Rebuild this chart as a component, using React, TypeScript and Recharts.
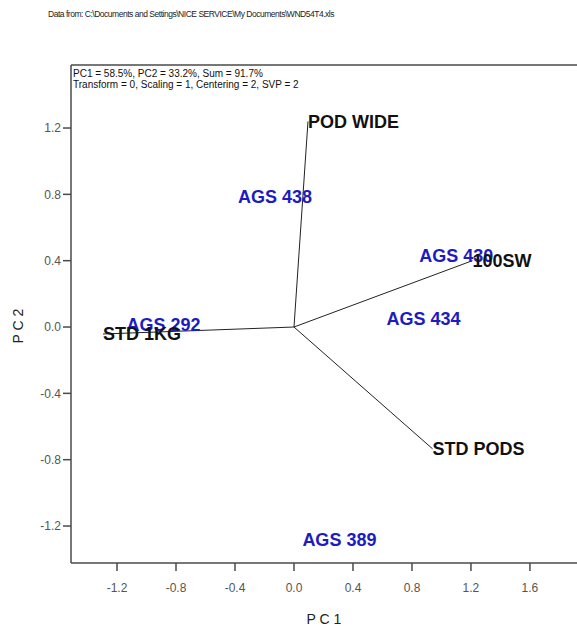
import * as React from "react";
import {
  ScatterChart,
  Scatter,
  XAxis,
  YAxis,
  ReferenceLine,
} from "recharts";

// trait vectors (end points, drawn from the origin)
const traitNames = ["POD WIDE", "100SW", "STD PODS", "STD 1KG"];
const traitPc1 = [0.095, 1.21, 0.94, -1.295];
const traitPc2 = [1.24, 0.4, -0.735, -0.042];

// genotype markers (label centres)
const genoNames = ["AGS 438", "AGS 430", "AGS 434", "AGS 292", "AGS 389"];
const genoPc1 = [-0.129, 1.1, 0.878, -0.885, 0.308];
const genoPc2 = [0.784, 0.43, 0.054, 0.018, -1.279];

const xTicks = [-1.2, -0.8, -0.4, 0.0, 0.4, 0.8, 1.2, 1.6];
const yTicks = [-1.2, -0.8, -0.4, 0.0, 0.4, 0.8, 1.2];
const xDomain = [-1.512, 1.919];
const yDomain = [-1.423, 1.58];

const traits = traitNames.map((name, i) => ({ name, x: traitPc1[i], y: traitPc2[i] }));
const genotypes = genoNames.map((name, i) => ({ name, x: genoPc1[i], y: genoPc2[i] }));

const FONT = "'Liberation Sans', Arial, sans-serif";
const AXIS = "#4a4a4a";

const TraitLabel = (props: any) => (
  <text
    x={props.cx}
    y={props.cy}
    dy="0.36em"
    fontFamily={FONT}
    fontSize={18}
    fontWeight="bold"
    fill="#111"
  >
    {props.payload.name}
  </text>
);

const GenoLabel = (props: any) => (
  <text
    x={props.cx}
    y={props.cy}
    dy="0.36em"
    textAnchor="middle"
    fontFamily={FONT}
    fontSize={18}
    fontWeight="bold"
    fill="#1c1cc0"
  >
    {props.payload.name}
  </text>
);

const XTitle = (props: any) => {
  const vb = props.viewBox;
  return (
    <text x={vb.x + vb.width / 2} y={619} dy="0.36em" textAnchor="middle" fontFamily={FONT} fontSize={14} fill="#222">
      P C 1
    </text>
  );
};

const YTitle = () => (
  <text
    x={18}
    y={326}
    dy="0.36em"
    textAnchor="middle"
    transform="rotate(-90 18 326)"
    fontFamily={FONT}
    fontSize={14}
    fill="#222"
  >
    P C 2
  </text>
);

const fmt = (v: number) => v.toFixed(1);

export default function App() {
  return (
    <div style={{ position: "absolute", left: 0, top: 0, width: 577, height: 627, background: "#fff" }}>
      <div
        style={{
          position: "absolute",
          left: 48,
          top: 9,
          fontFamily: FONT,
          fontSize: 8.5,
          color: "#222",
          whiteSpace: "nowrap",
          letterSpacing: -0.48,
        }}
      >
        Data from: C:\Documents and Settings\NICE SERVICE\My Documents\WND54T4.xls
      </div>
      <div
        style={{
          position: "absolute",
          left: 73,
          top: 68,
          fontFamily: FONT,
          fontSize: 10,
          lineHeight: "11px",
          color: "#111",
          whiteSpace: "nowrap",
          zIndex: 2,
        }}
      >
        <div>PC1 = 58.5%, PC2 = 33.2%, Sum = 91.7%</div>
        <div>Transform = 0, Scaling = 1, Centering = 2, SVP = 2</div>
      </div>
      <ScatterChart width={577} height={627} margin={{ top: 65, right: 0, bottom: 0, left: 0 }}>
        <XAxis
          type="number"
          dataKey="x"
          domain={xDomain}
          ticks={xTicks}
          allowDataOverflow
          tickFormatter={fmt}
          height={64}
          tickSize={8}
          tickMargin={12}
          stroke={AXIS}
          strokeWidth={1.5}
          tick={{ fontFamily: FONT, fontSize: 12, fill: "#555" }}
          label={<XTitle />}
        />
        <YAxis
          type="number"
          dataKey="y"
          domain={yDomain}
          ticks={yTicks}
          allowDataOverflow
          tickFormatter={fmt}
          width={71}
          tickSize={8}
          tickMargin={2}
          stroke={AXIS}
          strokeWidth={1.5}
          tick={{ fontFamily: FONT, fontSize: 12, fill: "#555" }}
          label={<YTitle />}
        />
        <ReferenceLine y={yDomain[1]} stroke={AXIS} strokeWidth={1.5} ifOverflow="visible" />
        {traits.map((t) => (
          <ReferenceLine
            key={t.name}
            segment={[{ x: 0, y: 0 }, { x: t.x, y: t.y }]}
            stroke="#222"
            strokeWidth={1}
            ifOverflow="visible"
          />
        ))}
        <Scatter data={genotypes} shape={GenoLabel} isAnimationActive={false} />
        <Scatter data={traits} shape={TraitLabel} isAnimationActive={false} />
      </ScatterChart>
    </div>
  );
}
